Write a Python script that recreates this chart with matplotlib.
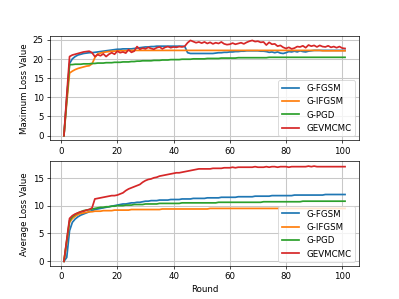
import matplotlib
matplotlib.use('Agg')
import matplotlib.pyplot as plt

rounds = list(range(1, 102))
labels = ['G-FGSM', 'G-IFGSM', 'G-PGD', 'GEVMCMC']

# maximum loss per round
max_fgsm = [0, 9.5, 18.8, 20, 20.6, 21, 21.2, 21.4, 21.5, 21.6,
            21.6, 21.7, 21.8, 21.9, 22, 22.1, 22.2, 22.3, 22.4, 22.5,
            22.5, 22.6, 22.6, 22.6, 22.6, 22.7, 22.8, 22.9, 23, 23.1,
            23.1, 23.2, 23.2, 23.3, 23.3, 23.3, 23.3, 23.3, 23.3, 23.3,
            23.3, 23.3, 23.3, 23.2, 21.6, 21.4, 21.4, 21.4, 21.4, 21.4,
            21.4, 21.4, 21.4, 21.4, 21.5, 21.6, 21.6, 21.7, 21.7, 21.8,
            21.8, 21.9, 21.9, 22, 22, 22.1, 22.1, 22.1, 22.1, 22.1,
            22, 22, 21.9, 21.7, 21.8, 21.6, 21.8, 21.5, 21.4, 21.6,
            21.9, 21.8, 22, 21.8, 22.1, 21.9, 21.8, 22, 22.1, 22.2,
            22.2, 22.2, 22.2, 22.2, 22.2, 22.2, 22.2, 22.2, 22.2, 22.2, 22.2]
max_ifgsm = [0, 8.5, 16.3, 16.8, 17.2, 17.5, 17.7, 17.9, 18.1, 18.2,
             18.7, 20.3, 21.3, 21.5, 21.7, 21.8, 21.9, 22, 22, 22.1,
             22.1, 22.1, 22.1, 22.2, 22.2, 22.2, 22.2, 22.2, 22.2, 22.2,
             22.2, 22.2, 22.2, 22.2, 22.2, 22.2, 22.2, 22.2, 22.2, 22.2,
             22.2, 22.2, 22.2, 22.2, 22.2, 22.2, 22.2, 22.2, 22.2, 22.2,
             22.2, 22.2, 22.2, 22.2, 22.2, 22.2, 22.2, 22.2, 22.2, 22.2,
             22.2, 22.2, 22.2, 22.2, 22.2, 22.2, 22.2, 22.2, 22.2, 22.2,
             22.2, 22.2, 22.2, 22.2, 22.2, 22.2, 22.2, 22.2, 22.2, 22.2,
             22.2, 22.2, 22.2, 22.2, 22.2, 22.2, 22.2, 22.2, 22.2, 22.2,
             22.2, 22.2, 22.1, 22.1, 22.1, 22.1, 22.1, 22.1, 22.1, 22.1, 22.1]
max_pgd = [0, 9.5, 18.5, 18.5, 18.6, 18.6, 18.6, 18.7, 18.7, 18.7,
           18.8, 18.8, 18.9, 18.9, 18.9, 19, 19, 19, 19.1, 19.1,
           19.1, 19.2, 19.2, 19.2, 19.3, 19.3, 19.4, 19.4, 19.5, 19.5,
           19.5, 19.5, 19.6, 19.6, 19.6, 19.7, 19.7, 19.7, 19.8, 19.8,
           19.8, 19.8, 19.9, 19.9, 19.9, 19.9, 20, 20, 20, 20,
           20, 20.1, 20.1, 20.1, 20.1, 20.1, 20.2, 20.2, 20.2, 20.2,
           20.2, 20.2, 20.3, 20.3, 20.3, 20.3, 20.3, 20.3, 20.3, 20.3,
           20.3, 20.3, 20.3, 20.4, 20.4, 20.4, 20.4, 20.4, 20.4, 20.4,
           20.4, 20.4, 20.4, 20.4, 20.4, 20.4, 20.4, 20.4, 20.4, 20.4,
           20.4, 20.4, 20.4, 20.4, 20.4, 20.4, 20.4, 20.4, 20.4, 20.4, 20.4]
max_gev = [0, 10.5, 20.6, 21, 21.2, 21.4, 21.6, 21.8, 21.9, 22,
           21.6, 20.6, 21.1, 20.8, 21.3, 20.6, 21.2, 21.6, 21.2, 22,
           21.6, 21.8, 21.5, 22.4, 21.7, 22, 23.2, 22.5, 22.8, 22.6,
           23, 22.7, 22.5, 22.9, 23.1, 22.6, 23, 23.2, 22.9, 23.1,
           23, 23.2, 23.1, 23.3, 24.2, 24.8, 24.5, 24.2, 24.4, 24.1,
           24.4, 24, 24.3, 23.9, 24.2, 24, 24.4, 23.9, 23.7, 23.8,
           24.1, 23.8, 24, 24.2, 23.9, 24.3, 24.6, 24.8, 24.5, 24.6,
           24.3, 24.4, 23.6, 24.3, 23.8, 23.9, 23.3, 23.5, 23, 22.7,
           23, 22.6, 22.8, 23.2, 23.1, 23.4, 22.9, 23.6, 23.3, 23.5,
           23.1, 23.5, 23.2, 23.1, 23.4, 23, 23.2, 22.9, 23.2, 22.8, 22.7]

# average loss per round
avg_fgsm = [0, 0.7, 5.5, 7, 7.6, 8, 8.3, 8.5, 8.7, 8.9,
            9.1, 9.3, 9.4, 9.5, 9.6, 9.7, 9.8, 9.9, 10, 10.1,
            10.2, 10.3, 10.3, 10.4, 10.5, 10.5, 10.6, 10.6, 10.7, 10.8,
            10.8, 10.9, 10.9, 10.9, 11, 11, 11, 11, 11.1, 11.1,
            11.1, 11.1, 11.2, 11.2, 11.2, 11.2, 11.3, 11.3, 11.3, 11.3,
            11.3, 11.4, 11.4, 11.4, 11.4, 11.4, 11.5, 11.5, 11.5, 11.5,
            11.5, 11.5, 11.6, 11.6, 11.6, 11.6, 11.6, 11.6, 11.7, 11.7,
            11.7, 11.7, 11.7, 11.7, 11.8, 11.8, 11.8, 11.8, 11.8, 11.8,
            11.8, 11.8, 11.9, 11.9, 11.9, 11.9, 11.9, 11.9, 11.9, 11.9,
            11.9, 11.9, 11.9, 12, 12, 12, 12, 12, 12, 12, 12]
avg_ifgsm = [0, 3.5, 7, 7.7, 8.1, 8.4, 8.6, 8.7, 8.8, 8.9,
             8.9, 9, 9, 9, 9.1, 9.1, 9.1, 9.1, 9.2, 9.2,
             9.2, 9.2, 9.2, 9.2, 9.3, 9.3, 9.3, 9.3, 9.3, 9.3,
             9.3, 9.3, 9.3, 9.3, 9.3, 9.4, 9.4, 9.4, 9.4, 9.4,
             9.4, 9.4, 9.4, 9.4, 9.4, 9.4, 9.4, 9.4, 9.4, 9.4,
             9.4, 9.4, 9.5, 9.5, 9.5, 9.5, 9.5, 9.5, 9.5, 9.5,
             9.5, 9.5, 9.5, 9.5, 9.5, 9.5, 9.5, 9.5, 9.5, 9.5,
             9.5, 9.5, 9.5, 9.5, 9.5, 9.5, 9.5, 9.5, 9.5, 9.5,
             9.5, 9.5, 9.5, 9.5, 9.5, 9.5, 9.5, 9.5, 9.5, 9.5,
             9.5, 9.5, 9.5, 9.5, 9.5, 9.5, 9.5, 9.5, 9.5, 9.5, 9.5]
avg_pgd = [0, 3.7, 7.3, 8, 8.4, 8.7, 8.9, 9.1, 9.2, 9.3,
           9.4, 9.5, 9.6, 9.7, 9.7, 9.8, 9.8, 9.9, 9.9, 10,
           10, 10, 10.1, 10.1, 10.1, 10.2, 10.2, 10.2, 10.2, 10.3,
           10.3, 10.3, 10.3, 10.3, 10.4, 10.4, 10.4, 10.4, 10.4, 10.4,
           10.4, 10.4, 10.5, 10.5, 10.5, 10.5, 10.5, 10.5, 10.5, 10.5,
           10.5, 10.5, 10.5, 10.5, 10.5, 10.6, 10.6, 10.6, 10.6, 10.6,
           10.6, 10.6, 10.6, 10.6, 10.6, 10.6, 10.6, 10.6, 10.6, 10.6,
           10.6, 10.7, 10.7, 10.7, 10.7, 10.7, 10.7, 10.7, 10.7, 10.7,
           10.7, 10.7, 10.7, 10.7, 10.7, 10.8, 10.8, 10.8, 10.8, 10.8,
           10.8, 10.8, 10.8, 10.8, 10.8, 10.8, 10.8, 10.8, 10.8, 10.8, 10.8]
avg_gev = [0, 3.9, 7.7, 8.2, 8.5, 8.7, 8.9, 9, 9.2, 9.3,
           9.6, 11.2, 11.3, 11.4, 11.5, 11.6, 11.7, 11.8, 11.8, 11.9,
           12.1, 12.3, 12.7, 13, 13.2, 13.4, 13.6, 13.8, 14.2, 14.5,
           14.7, 14.8, 15, 15.1, 15.3, 15.4, 15.5, 15.6, 15.7, 15.8,
           15.9, 15.9, 16, 16.1, 16.2, 16.3, 16.4, 16.5, 16.6, 16.6,
           16.6, 16.6, 16.6, 16.7, 16.7, 16.7, 16.7, 16.8, 16.8, 16.8,
           16.9, 16.8, 16.9, 16.9, 16.9, 16.9, 16.9, 16.9, 17, 16.9,
           16.9, 16.9, 17, 16.9, 17, 17, 16.9, 17, 17, 17,
           16.9, 17, 17, 17, 17, 17, 17, 17.1, 17, 17.1,
           17, 17, 17, 17, 17, 17, 17, 17, 17, 17, 17]

fig = plt.figure(figsize=(6.4, 4.8), dpi=399/6.4)

plt.subplot(2, 1, 1)
for y, lab in zip([max_fgsm, max_ifgsm, max_pgd, max_gev], labels):
    plt.plot(rounds, y, label=lab, lw=2)
plt.ylabel('Maximum Loss Value')
plt.xticks([0, 20, 40, 60, 80, 100])
plt.grid(True, color='#c8c8c8', lw=1.2)
plt.legend(loc='lower right')

plt.subplot(2, 1, 2)
for y, lab in zip([avg_fgsm, avg_ifgsm, avg_pgd, avg_gev], labels):
    plt.plot(rounds, y, label=lab, lw=2)
plt.ylabel('Average Loss Value')
plt.xlabel('Round')
plt.xticks([0, 20, 40, 60, 80, 100])
plt.grid(True, color='#c8c8c8', lw=1.2)
plt.legend(loc='lower right')

plt.savefig('out.png', dpi=399/6.4)
